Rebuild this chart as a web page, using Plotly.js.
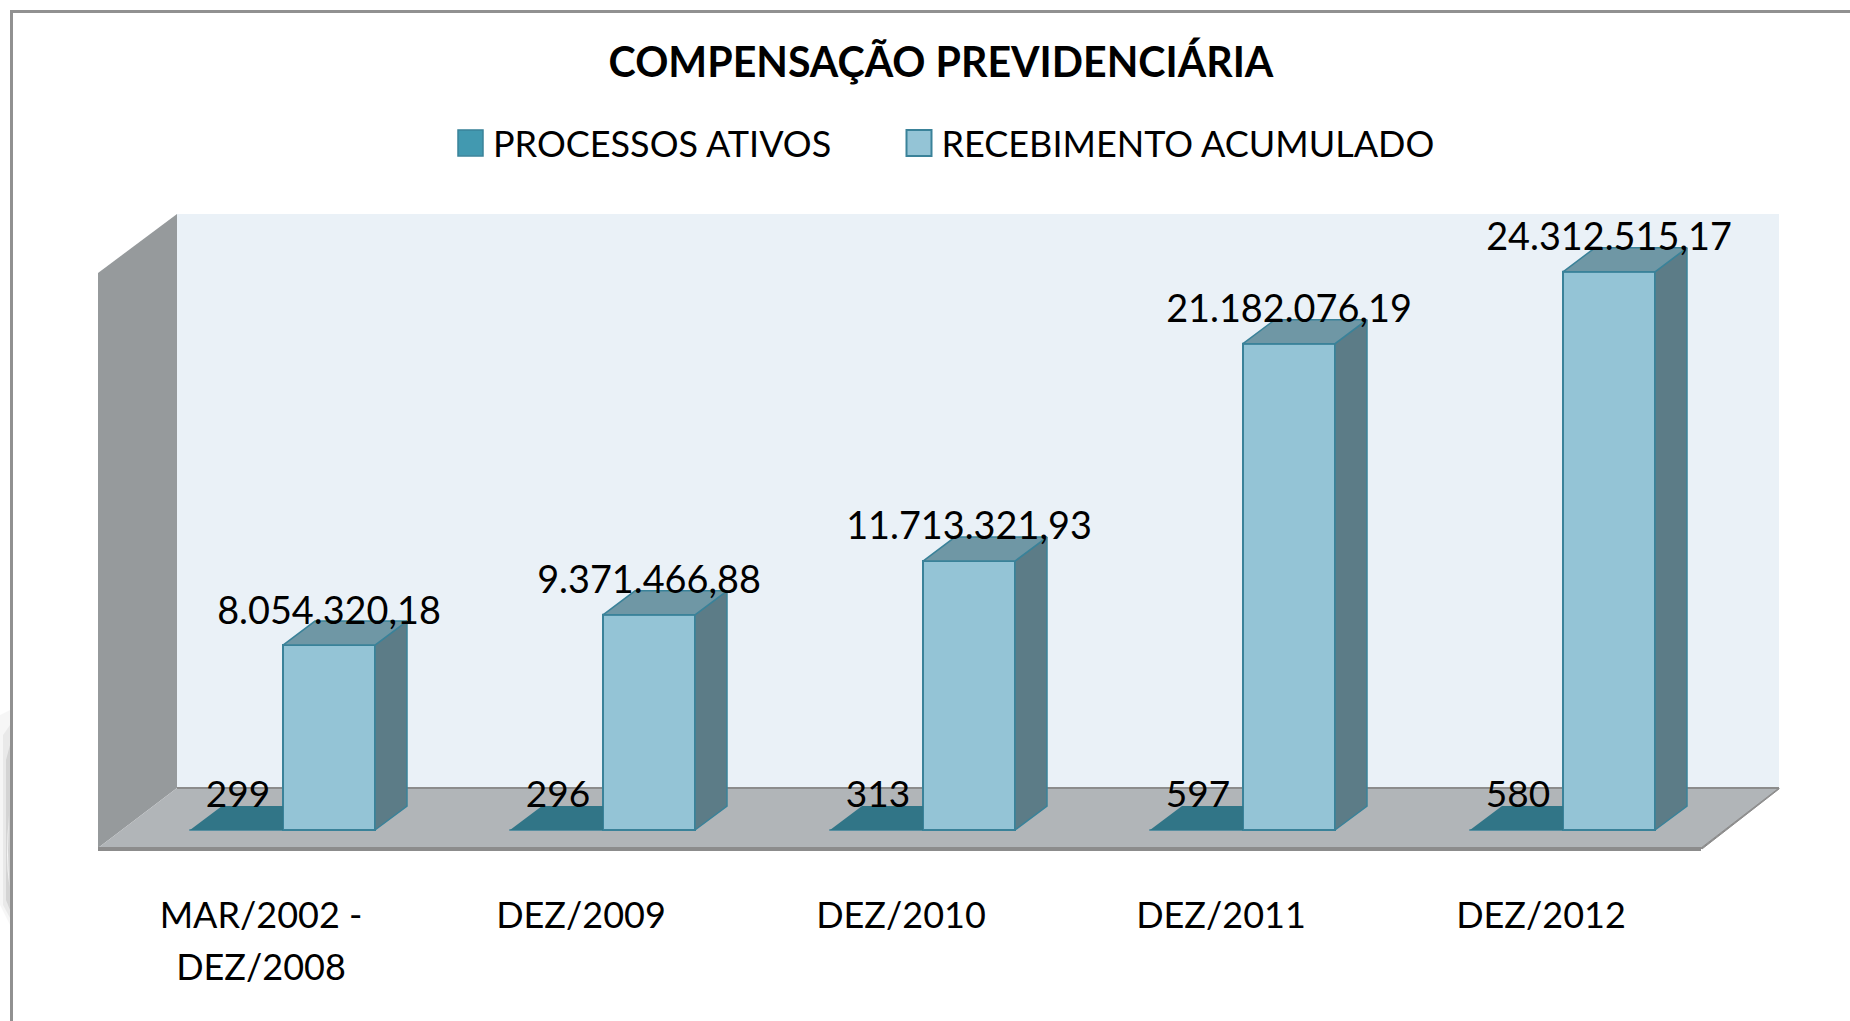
<!DOCTYPE html>
<html>
<head>
<meta charset="utf-8">
<script src="https://cdn.plot.ly/plotly-3.0.1.min.js"></script>
<style>html,body{margin:0;padding:0;background:#fff;overflow:hidden}#c{width:1850px;height:1021px}</style>
</head>
<body>
<div id="c"></div>
<script>
const categories = ["MAR/2002 -<br>DEZ/2008", "DEZ/2009", "DEZ/2010", "DEZ/2011", "DEZ/2012"];
const processosAtivos = [299, 296, 313, 597, 580];
const recebimentoAcumulado = [8054320.18, 9371466.88, 11713321.93, 21182076.19, 24312515.17];
const processosLabels = ["299", "296", "313", "597", "580"];
const recebimentoLabels = ["8.054.320,18", "9.371.466,88", "11.713.321,93", "21.182.076,19", "24.312.515,17"];
const seriesNames = ["PROCESSOS ATIVOS", "RECEBIMENTO ACUMULADO"];
const chartTitle = "COMPENSAÇÃO PREVIDENCIÁRIA";

// plot box in page pixels
const L = 98, R = 1779, T = 214, B = 851;
const PXX = 320, UNIT = 43554;        // px per category, value per px
const Y0 = 830, X0 = 261;             // baseline and first category
const xr = [(L - X0) / PXX, (R - X0) / PXX];
const yr = [-(B - Y0) * UNIT, (Y0 - T) * UNIT];
const px = v => (v - L) / (R - L), py = v => (B - v) / (B - T);

const barW = 92 / PXX, dX = 32 / PXX, dY = 24 * UNIT, labelUp = 31 * UNIT;
const offP = -25 / PXX, offR = 68 / PXX;
const idx = categories.map((_, i) => i);

function poly(fn) {
  const xs = [], ys = [];
  idx.forEach(i => { fn(i).forEach(p => { xs.push(p[0]); ys.push(p[1]); }); xs.push(null); ys.push(null); });
  return { x: xs, y: ys };
}
const FONT = "Lato, Carlito, Calibri, sans-serif";
const EDGE = "#3A8299";
function face(p, fill, w) {
  return { type: "scatter", mode: "lines", x: p.x, y: p.y, fill: "toself", fillcolor: fill,
    line: { color: EDGE, width: w }, hoverinfo: "skip", showlegend: false };
}
const recvTop = poly(i => {
  const l = i + offR - barW / 2, r = i + offR + barW / 2, v = recebimentoAcumulado[i];
  return [[l, v], [r, v], [r + dX, v + dY], [l + dX, v + dY], [l, v]];
});
const recvSide = poly(i => {
  const r = i + offR + barW / 2, v = recebimentoAcumulado[i];
  return [[r, 0], [r + dX, dY], [r + dX, v + dY], [r, v], [r, 0]];
});
const procTop = poly(i => {
  const l = i + offP - barW / 2, r = i + offR - barW / 2, v = processosAtivos[i];
  return [[l, v], [r, v], [r, v + dY], [l + dX, v + dY], [l, v]];
});

const traces = [
  { type: "bar", name: seriesNames[0], x: idx.map(i => i + offP), y: processosAtivos, width: barW,
    marker: { color: "#4299B0", line: { color: "#3A8299", width: 1.5 } }, hoverinfo: "skip" },
  { type: "bar", name: seriesNames[1], x: idx.map(i => i + offR), y: recebimentoAcumulado, width: barW,
    marker: { color: "#94C4D6", line: { color: EDGE, width: 2 } }, hoverinfo: "skip" },
  face(procTop, "#317587", 0),
  face(recvSide, "#5C7C87", 1.5),
  face(recvTop, "#6F97A5", 1.5),
  { type: "scatter", mode: "text", x: idx.map(i => i + offP + 2 / PXX), y: processosAtivos.map(v => v + 32 * UNIT),
    text: processosLabels, textposition: "middle center", textfont: { family: FONT, size: 37, color: "#000" },
    cliponaxis: false, hoverinfo: "skip", showlegend: false },
  { type: "scatter", mode: "text", x: idx.map(i => i + offR), y: recebimentoAcumulado.map(v => v + labelUp),
    text: recebimentoLabels, textposition: "middle center", textfont: { family: FONT, size: 37.8, color: "#000" },
    cliponaxis: false, hoverinfo: "skip", showlegend: false }
];

function pathPx(pts) {
  return "M" + pts.map(p => px(p[0]) + "," + py(p[1])).join("L") + "Z";
}
function sh(pts, fill, lineColor, w, layer) {
  return { type: "path", xref: "paper", yref: "paper", path: pathPx(pts), fillcolor: fill,
    line: { color: lineColor || fill, width: w === undefined ? 0 : w }, layer: layer || "below" };
}
const GR = "#8C8C8C";
const shapes = [
  sh([[177, 214], [1779, 214], [1779, 788], [177, 788]], "#EAF1F7"),
  sh([[98, 273], [177, 214], [177, 788], [98, 848]], "#969A9C"),
  sh([[177, 788], [1779, 788], [1701, 848], [98, 848]], "#B1B5B8"),
  sh([[177, 787], [1779, 787], [1779, 789], [177, 789]], GR),
  sh([[98, 847], [1701, 847], [1701, 851], [98, 851]], GR),
  sh([[1701, 848], [1779, 788], [1779, 789], [1702, 849]], GR, GR, 1),
  // soft page shadow left of the frame
  sh([[0, 715], [10, 710], [10, 925], [0, 905]], "rgba(0,0,0,0.035)"),
  sh([[3, 735], [10, 725], [10, 918], [3, 905]], "rgba(0,0,0,0.05)"),
  sh([[6, 760], [10, 745], [10, 910], [6, 900]], "rgba(0,0,0,0.09)"),
  sh([[9, 815], [7.5, 835], [7, 855], [7.5, 870], [9.5, 887], [8.5, 868], [8, 850], [8.5, 832]], "#F4F4F4"),
  // frame
  sh([[10, 10], [1850, 10], [1850, 13], [10, 13]], "#919191"),
  sh([[10, 10], [13, 10], [13, 1021], [10, 1021]], "#919191")
];

const layout = {
  width: 1850, height: 1021, autosize: false,
  margin: { l: L, r: 1850 - R, t: T, b: 1021 - B, pad: 0 },
  paper_bgcolor: "rgba(0,0,0,0)", plot_bgcolor: "rgba(0,0,0,0)",
  barmode: "overlay",
  font: { family: FONT, color: "#000" },
  title: { text: "<b>" + chartTitle + "</b>", xref: "paper", yref: "container", x: px(941), xanchor: "center",
    y: 1 - 63 / 1021, yanchor: "middle", font: { family: FONT, size: 41.1, color: "#000" } },
  legend: { orientation: "h", x: px(453), xanchor: "left", y: py(113), yanchor: "top",
    font: { family: FONT, size: 36, color: "#000" }, bgcolor: "rgba(0,0,0,0)", itemwidth: 30,
    entrywidth: 403.5, entrywidthmode: "pixels",
    itemclick: false, itemdoubleclick: false, traceorder: "normal" },
  showlegend: true,
  xaxis: { range: xr, type: "linear", tickmode: "array", tickvals: idx, ticktext: categories,
    tickfont: { family: FONT, size: 36, color: "#000" }, ticks: "", showgrid: false, zeroline: false,
    showline: false, ticklabelstandoff: 40, fixedrange: true },
  yaxis: { range: yr, visible: false, showgrid: false, zeroline: false, fixedrange: true },
  shapes: shapes
};

function touchUp(gd) {
  gd.querySelectorAll(".legend .legendpoints path").forEach(p => p.setAttribute("d", "M10,13H-15V-13H10Z"));
  const box = gd.querySelector(".legend .scrollbox");
  if (box) box.removeAttribute("clip-path");
  gd.querySelectorAll(".legend .scrollbox, .legend .legendtoggle").forEach(n => { n.style.clipPath = "none"; });
  gd.querySelectorAll(".xtick text tspan.line").forEach(t => {
    if (t.getAttribute("dy") && parseFloat(t.getAttribute("dy")) > 0) t.setAttribute("dy", "1.45em");
  });
}
Plotly.newPlot("c", traces, layout, { displayModeBar: false }).then(gd => {
  touchUp(gd);
  gd.on("plotly_afterplot", () => touchUp(gd));
  setTimeout(() => touchUp(gd), 50);
});
</script>
</body>
</html>
